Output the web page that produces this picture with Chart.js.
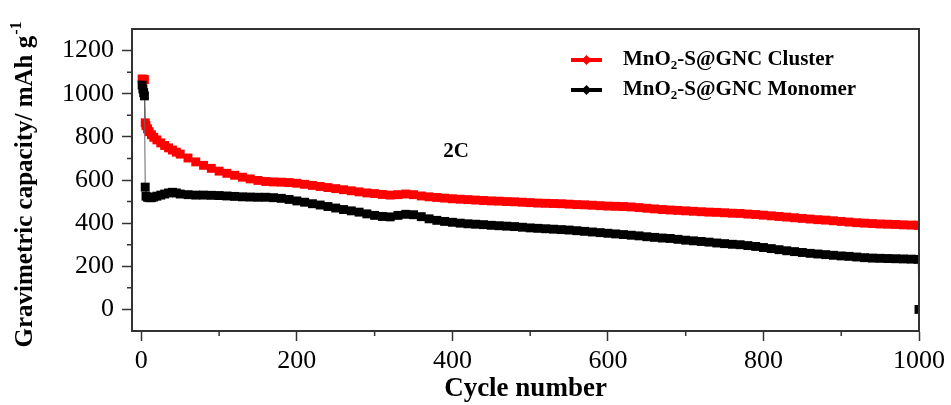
<!DOCTYPE html>
<html>
<head>
<meta charset="utf-8">
<script src="https://cdn.jsdelivr.net/npm/chart.js@4.4.1/dist/chart.umd.min.js"></script>
<style>
  html, body { margin: 0; padding: 0; background: #fff; }
  #wrap { width: 951px; height: 405px; }
</style>
</head>
<body>
<div id="wrap"><canvas id="myChart" width="951" height="405"></canvas></div>
<script>
// cycle numbers (dense at the start, then every 10 cycles)
const cycles = [1,2,3,4,5,6,8,10,13,16,20,25,30,35,40,45,50,
  60,70,80,90,100,110,120,130,140,150,160,170,180,190,200,
  210,220,230,240,250,260,270,280,290,300,310,320,330,340,350,
  360,370,380,390,400,410,420,430,440,450,460,470,480,490,500,
  510,520,530,540,550,560,570,580,590,600,610,620,630,640,650,
  660,670,680,690,700,710,720,730,740,750,760,770,780,790,800,
  810,820,830,840,850,860,870,880,890,900,910,920,930,940,950,
  960,970,980,990,999,1000];

// MnO2-S@GNC Cluster (mAh/g)
const clusterCap = [1068,1067,1066,1065,865,852,837,824,810,798,786,772,760,749,739,729,720,
  702,684,668,654,641,631,622,613,605,598,593,591,590,588,585,
  580,575,570,565,560,555,550,545,540,537,533,530,532,535,532,
  526,522,519,516,513,511,509,507,505,503,502,500,499,497,495,
  493,492,491,490,488,486,485,483,481,479,478,477,475,472,469,
  466,463,461,459,457,455,453,451,450,448,446,445,442,440,437,
  434,431,428,425,422,419,416,414,411,408,405,402,400,398,396,
  395,394,392,391,390,390];

// MnO2-S@GNC Monomer (mAh/g)
const monomerCap = [1040,1022,1005,990,567,525,520,518,518,521,525,530,535,540,543,540,535,
  532,530,530,529,528,526,524,522,521,520,520,518,515,510,503,
  497,490,484,477,470,463,457,451,443,436,431,429,436,441,439,
  430,420,413,408,404,400,397,395,393,390,388,386,384,381,378,
  376,374,372,370,368,365,362,359,356,353,350,347,344,341,337,
  334,331,329,325,321,318,315,312,308,305,302,300,296,292,287,
  282,277,272,268,264,260,257,254,251,248,246,243,240,238,237,
  236,235,234,233,232,0];

const seriesNames = ['MnO2-S@GNC Cluster', 'MnO2-S@GNC Monomer'];
const seriesColors = ['#ff0000', '#000000'];

const xTicks = [0, 200, 400, 600, 800, 1000];
const xMinor = [100, 300, 500, 700, 900];
const yTicks = [0, 200, 400, 600, 800, 1000, 1200];
const yMinor = [100, 300, 500, 700, 900, 1100];

const serif = '"Liberation Serif", "Times New Roman", serif';
const axisColor = '#333';

// text with a small "2" after "MnO"
function drawChemText(ctx, text, x, y, size) {
  const i = text.indexOf('2');
  const head = text.slice(0, i), sub = '2', tail = text.slice(i + 1);
  ctx.font = 'bold ' + size + 'px ' + serif;
  ctx.fillText(head, x, y);
  x += ctx.measureText(head).width;
  ctx.font = 'bold ' + Math.round(size * 0.62) + 'px ' + serif;
  ctx.fillText(sub, x, y + size * 0.25);
  x += ctx.measureText(sub).width;
  ctx.font = 'bold ' + size + 'px ' + serif;
  ctx.fillText(tail, x, y);
}

const extras = {
  id: 'extras',
  afterDraw(chart) {
    const {ctx, chartArea: a, scales: {x, y}} = chart;
    ctx.save();
    // frame
    ctx.strokeStyle = axisColor;
    ctx.lineWidth = 2;
    ctx.strokeRect(a.left, a.top, a.right - a.left, a.bottom - a.top);
    // minor ticks
    ctx.lineWidth = 1.5;
    ctx.beginPath();
    xMinor.forEach(v => {
      const px = x.getPixelForValue(v);
      ctx.moveTo(px, a.bottom); ctx.lineTo(px, a.bottom + 5);
    });
    yMinor.forEach(v => {
      const py = y.getPixelForValue(v);
      ctx.moveTo(a.left, py); ctx.lineTo(a.left - 5, py);
    });
    ctx.stroke();

    // legend
    ctx.textBaseline = 'middle';
    ctx.textAlign = 'left';
    seriesNames.forEach((name, k) => {
      const ly = 60 + k * 30;
      ctx.strokeStyle = seriesColors[k];
      ctx.lineWidth = 4;
      ctx.beginPath(); ctx.moveTo(571, ly); ctx.lineTo(602, ly); ctx.stroke();
      ctx.fillStyle = seriesColors[k];
      ctx.beginPath();
      ctx.moveTo(586.5, ly - 5); ctx.lineTo(591.5, ly); ctx.lineTo(586.5, ly + 5); ctx.lineTo(581.5, ly);
      ctx.closePath(); ctx.fill();
      ctx.fillStyle = '#000';
      drawChemText(ctx, name, 623, ly, 21);
    });

    // rate label
    ctx.textAlign = 'center';
    ctx.font = 'bold 21px ' + serif;
    ctx.fillText('2C', 456, 152);

    // y axis title with superscript
    ctx.translate(26, 185);
    ctx.rotate(-Math.PI / 2);
    const main = 'Gravimetric capacity/ mAh g';
    ctx.font = 'bold 25px ' + serif;
    const w1 = ctx.measureText(main).width;
    ctx.font = 'bold 16px ' + serif;
    const w2 = ctx.measureText('-1').width;
    const sx = -(w1 + w2) / 2;
    ctx.textAlign = 'left';
    ctx.font = 'bold 25px ' + serif;
    ctx.fillText(main, sx, 0);
    ctx.font = 'bold 16px ' + serif;
    ctx.fillText('-1', sx + w1 + 1, -9);
    ctx.restore();
  }
};

const data = {
  datasets: [
    {
      label: seriesNames[0],
      data: cycles.map((c, i) => ({x: c, y: clusterCap[i]})),
      borderColor: '#8b1a1a',
      borderWidth: 1,
      backgroundColor: seriesColors[0],
      pointStyle: 'rect',
      pointRadius: 6.3,
      pointBorderWidth: 0,
      pointBackgroundColor: seriesColors[0],
      order: 2
    },
    {
      label: seriesNames[1],
      data: cycles.map((c, i) => ({x: c, y: monomerCap[i]})),
      borderColor: '#666',
      borderWidth: 1,
      backgroundColor: seriesColors[1],
      pointStyle: 'rect',
      pointRadius: 6.3,
      pointBorderWidth: 0,
      pointBackgroundColor: seriesColors[1],
      order: 1
    }
  ]
};

const config = {
  type: 'line',
  data,
  options: {
    responsive: false,
    animation: false,
    layout: { padding: { top: 29, right: 32, left: 0, bottom: 0 } },
    plugins: { legend: { display: false }, tooltip: { enabled: false } },
    scales: {
      x: {
        type: 'linear',
        min: -12,
        max: 1000,
        afterBuildTicks: s => { s.ticks = xTicks.map(v => ({value: v})); },
        afterFit: s => { s.height = 74; },
        grid: { drawOnChartArea: false, drawTicks: true, tickLength: 10, tickWidth: 1.5, tickColor: axisColor },
        border: { display: true, color: axisColor, width: 2 },
        ticks: {
          autoSkip: false, maxRotation: 0, padding: 5, color: '#000',
          font: { family: serif, size: 26 },
          callback: v => String(v)
        },
        title: {
          display: true, text: 'Cycle number', color: '#000',
          font: { family: serif, size: 27, weight: 'bold' },
          padding: { top: 0, bottom: 0 }
        }
      },
      y: {
        type: 'linear',
        min: -100,
        max: 1300,
        afterBuildTicks: s => { s.ticks = yTicks.map(v => ({value: v})); },
        afterFit: s => { s.width = 132; },
        grid: { drawOnChartArea: false, drawTicks: true, tickLength: 10, tickWidth: 1.5, tickColor: axisColor },
        border: { display: true, color: axisColor, width: 2 },
        ticks: {
          padding: 8, color: '#000',
          font: { family: serif, size: 26 },
          callback: v => String(v)
        }
      }
    }
  },
  plugins: [extras]
};

const myChart = new Chart(document.getElementById('myChart'), config);
</script>
</body>
</html>
